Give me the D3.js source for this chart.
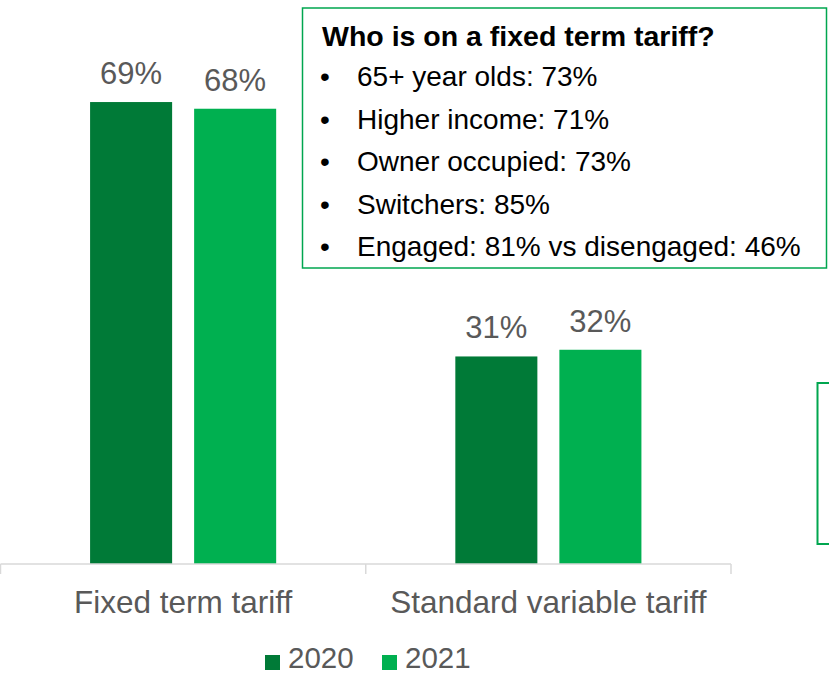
<!DOCTYPE html>
<html>
<head>
<meta charset="utf-8">
<script src="https://cdn.jsdelivr.net/npm/d3@7"></script>
<style>
  html, body { margin: 0; padding: 0; background: #fff; }
  svg { display: block; font-family: "Liberation Sans", Arial, sans-serif; }
</style>
</head>
<body>
<svg id="chart" width="829" height="675"></svg>
<script>
// Tariff type share by survey year
const categories = ["Fixed term tariff", "Standard variable tariff"];
const years = ["2020", "2021"];
const values2020 = [69, 31];
const values2021 = [68, 32];
const yearColors = ["#007A37", "#00B050"];

// Call-out text
const calloutTitle = "Who is on a fixed term tariff?";
const calloutItems = [
  "65+ year olds: 73%",
  "Higher income: 71%",
  "Owner occupied: 73%",
  "Switchers: 85%",
  "Engaged: 81% vs disengaged: 46%"
];

const svg = d3.select("#chart");
const labelGrey = "#595959";
const axisGrey = "#D9D9D9";
const boxGreen = "#00A64F";

const rows = categories.map((c, i) => ({
  category: c,
  values: [values2020[i], values2021[i]]
}));

const baseY = 564;
const x0 = d3.scaleBand().domain(categories).range([0.5, 731]).padding(0);
const x1 = d3.scaleBand().domain(years).range([0, x0.bandwidth()])
  .paddingInner(22 / 104).paddingOuter(0.861);
const y = d3.scaleLinear().domain([0, 80]).range([baseY, baseY - 80 * 6.695]);

// Bars
const groups = svg.append("g").selectAll("g")
  .data(rows).join("g")
  .attr("transform", d => `translate(${x0(d.category)},0)`);

groups.selectAll("rect")
  .data(d => d.values.map((v, j) => ({ year: years[j], value: v, j })))
  .join("rect")
  .attr("x", d => x1(d.year))
  .attr("width", x1.bandwidth())
  .attr("y", d => y(d.value))
  .attr("height", d => y(0) - y(d.value))
  .attr("fill", d => yearColors[d.j]);

groups.selectAll("text.value")
  .data(d => d.values.map((v, j) => ({ year: years[j], value: v })))
  .join("text")
  .attr("class", "value")
  .attr("x", d => x1(d.year) + x1.bandwidth() / 2)
  .attr("y", d => y(d.value) - 18)
  .attr("text-anchor", "middle")
  .attr("font-size", 31)
  .attr("fill", labelGrey)
  .text(d => d.value + "%");

// Category axis
const axis = svg.append("g").attr("transform", `translate(0,${baseY})`)
  .call(d3.axisBottom(x0).tickSize(0).tickPadding(0).tickFormat(""));
axis.select(".domain").attr("stroke", axisGrey).attr("stroke-width", 1.5)
  .attr("d", `M0.5,0H731`);
axis.selectAll(".tick").remove();

const boundaries = [x0.range()[0], x0(categories[1]), x0.range()[1]];
axis.selectAll("line.sep").data(boundaries).join("line")
  .attr("class", "sep")
  .attr("x1", d => d).attr("x2", d => d)
  .attr("y1", 0).attr("y2", 10)
  .attr("stroke", axisGrey).attr("stroke-width", 1.5);

svg.append("g").selectAll("text")
  .data(categories).join("text")
  .attr("x", d => x0(d) + x0.bandwidth() / 2)
  .attr("y", 613)
  .attr("text-anchor", "middle")
  .attr("font-size", 31.5)
  .attr("fill", labelGrey)
  .text(d => d);

// Legend
const legendX = [265, 382];
const legend = svg.append("g").selectAll("g")
  .data(years).join("g")
  .attr("transform", (d, i) => `translate(${legendX[i]},0)`);
legend.append("rect")
  .attr("x", 0).attr("y", 655).attr("width", 15).attr("height", 15)
  .attr("fill", (d, i) => yearColors[i]);
legend.append("text")
  .attr("x", 23).attr("y", 668)
  .attr("font-size", 29.5)
  .attr("fill", labelGrey)
  .text(d => d);

// Call-out box
svg.append("rect")
  .attr("x", 302.5).attr("y", 8).attr("width", 524).attr("height", 260)
  .attr("fill", "#fff").attr("stroke", boxGreen).attr("stroke-width", 1.5);

svg.append("text")
  .attr("x", 322).attr("y", 46)
  .attr("font-size", 28.5).attr("font-weight", "bold").attr("fill", "#000")
  .text(calloutTitle);

const items = svg.append("g").selectAll("g")
  .data(calloutItems).join("g")
  .attr("transform", (d, i) => `translate(0,${86 + i * 42.5})`);
items.append("text")
  .attr("x", 320).attr("y", 0)
  .attr("font-size", 28).attr("fill", "#000")
  .text("\u2022");
items.append("text")
  .attr("x", 357).attr("y", 0)
  .attr("font-size", 28).attr("fill", "#000")
  .text(d => d);

// Second panel edge at the right
svg.append("rect")
  .attr("x", 817.5).attr("y", 383).attr("width", 40).attr("height", 161)
  .attr("fill", "#fff").attr("stroke", boxGreen).attr("stroke-width", 2);
</script>
</body>
</html>
